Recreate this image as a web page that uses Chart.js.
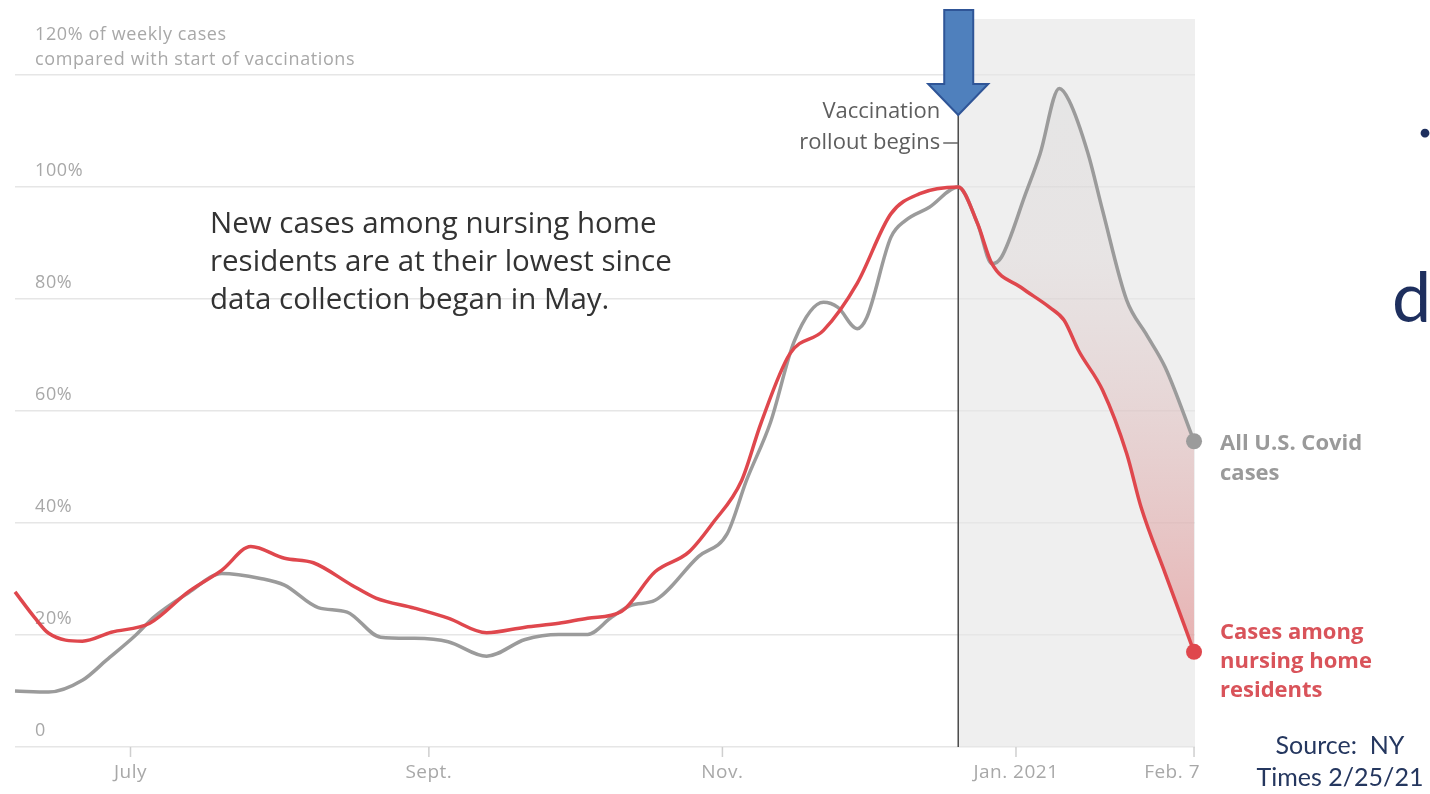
<!DOCTYPE html>
<html>
<head>
<meta charset="utf-8">
<script src="https://cdn.jsdelivr.net/npm/chart.js@4.4.1/dist/chart.umd.min.js"></script>
<style>
  html, body { margin: 0; padding: 0; background: #fff; }
  #wrap { width: 1430px; height: 794px; }
</style>
</head>
<body>
<div id="wrap"><canvas id="chart" width="1430" height="794"></canvas></div>
<script>
// ── DATA (days since July 1, 2020; % of weekly cases vs. start of vaccinations) ──
const VACC_DAY = 172;

const NURSING_DAYS = [-24, -20, -17, -10, -4, 4, 12, 19, 25, 32, 38, 46, 51, 59, 66, 74, 82, 89, 95, 102,
  109, 116, 121, 127, 131, 137, 144, 151, 158, 164, 172, 176, 179, 185, 191, 194, 197, 202, 207, 210, 215, 221];
const NURSING_VALS = [27.7, 23.2, 20.3, 18.9, 20.5, 22.1, 27.7, 31.6, 35.8, 33.7, 32.9, 28.9, 26.6, 24.8, 23, 20.4, 21.4, 22.1, 23, 24.2,
  31.3, 34.8, 40, 47.6, 57.8, 70.2, 74.4, 82.8, 95.2, 98.8, 100, 93.5, 86.3, 82.1, 78.5, 76.2, 70.8, 63.7, 52.4, 42.8, 31, 17];

const ALL_DAYS = [-24, -17, -10, -5, 1, 5, 12, 19, 27, 32, 39, 45, 52, 59, 66, 74, 82, 89, 95, 100, 104, 109,
  118, 124, 128, 133, 138, 144, 147, 151, 153, 158, 161, 166, 172, 176, 179, 181, 186, 189, 193, 195, 199, 202, 207, 211, 215, 221];
const ALL_VALS = [10, 9.8, 11.9, 15.5, 19.9, 23.3, 27.5, 31, 30.1, 28.9, 24.9, 24.1, 19.6, 19.4, 18.8, 16.2, 19.2, 20.1, 20.1, 23.2, 25.3, 26.2,
  34, 38.1, 47.6, 58, 72.6, 79.4, 78.5, 74.7, 76.7, 91, 94, 96.4, 100, 93.5, 86.3, 87.5, 98.8, 105.9, 117.6, 115.5, 105.9, 95.8, 79.8, 73.8, 67.8, 54.6];

const Y_TICKS  = [0, 20, 40, 60, 80, 100, 120];
const Y_LABELS = ['0', '20%', '40%', '60%', '80%', '100%', '120% of weekly cases'];
const Y_SUB    = 'compared with start of vaccinations';
const X_TICKS  = [0, 62, 123, 184, 221];
const X_LABELS = ['July', 'Sept.', 'Nov.', 'Jan. 2021', 'Feb. 7'];

const NOTE = ['New cases among nursing home', 'residents are at their lowest since', 'data collection began in May.'];
const VACC_NOTE = ['Vaccination', 'rollout begins'];
const LABEL_ALL = ['All U.S. Covid', 'cases'];
const LABEL_NURSING = ['Cases among', 'nursing home', 'residents'];
const SOURCE = ['Source:  NY', 'Times 2/25/21'];

const RED  = '#df474d';
const GREY = '#9b9b9b';
const NAVY = '#1e2f5e';
const AXIS_FONT = '"Open Sans", Lato, sans-serif';

const toPoints = (days, vals) => days.map((d, i) => ({ x: d, y: vals[i] }));
const nursingPts = toPoints(NURSING_DAYS, NURSING_VALS);
const allPts = toPoints(ALL_DAYS, ALL_VALS);
const gapPts = allPts.filter(p => p.x >= 179);

Chart.defaults.font.family = 'Lato, "Open Sans", sans-serif';

// ── DECORATION PLUGIN ─────────────────────────────────────────────────
const decor = {
  id: 'decor',
  beforeDraw(chart) {
    const { ctx, chartArea: a, scales: { x } } = chart;
    const vx = x.getPixelForValue(VACC_DAY);
    ctx.save();
    ctx.fillStyle = '#fff';
    ctx.fillRect(0, 0, chart.width, chart.height);
    ctx.fillStyle = '#efefef';
    ctx.fillRect(vx, a.top, a.right - vx, a.bottom - a.top);
    ctx.restore();
  },
  beforeDatasetsDraw(chart) {
    const { ctx, chartArea: a, scales: { x, y } } = chart;
    ctx.save();
    // y labels
    ctx.font = `18px ${AXIS_FONT}`;
    ctx.letterSpacing = '0.6px';
    ctx.fillStyle = '#a8a8a8';
    ctx.textBaseline = 'middle';
    ctx.textAlign = 'left';
    Y_TICKS.forEach((t, i) => {
      const py = y.getPixelForValue(t);
      if (t === 120) {
        ctx.fillText(Y_LABELS[i], 35, py - 40);
        ctx.fillText(Y_SUB, 35, py - 15);
      } else {
        ctx.fillText(Y_LABELS[i], 35, py - 16);
      }
    });
    // x ticks + labels
    ctx.strokeStyle = '#cfcfcf';
    ctx.lineWidth = 1.5;
    ctx.font = `19px ${AXIS_FONT}`;
    ctx.letterSpacing = '0.5px';
    X_TICKS.forEach((t, i) => {
      const px = x.getPixelForValue(t);
      ctx.beginPath();
      ctx.moveTo(px, a.bottom);
      ctx.lineTo(px, a.bottom + 10);
      ctx.stroke();
      const last = i === X_TICKS.length - 1;
      ctx.textAlign = last ? 'right' : 'center';
      ctx.fillText(X_LABELS[i], last ? px + 6 : px, a.bottom + 26);
    });
    ctx.letterSpacing = '0px';
    // note
    ctx.font = `29.5px ${AXIS_FONT}`;
    ctx.fillStyle = '#333';
    ctx.textAlign = 'left';
    NOTE.forEach((s, i) => ctx.fillText(s, 210, 225 + i * 38));
    // vaccination line + note
    const vx = x.getPixelForValue(VACC_DAY);
    ctx.strokeStyle = '#4a4a4a';
    ctx.lineWidth = 1.5;
    ctx.beginPath();
    ctx.moveTo(vx, 112);
    ctx.lineTo(vx, a.bottom);
    ctx.stroke();
    ctx.font = `22px ${AXIS_FONT}`;
    ctx.fillStyle = '#5e5e5e';
    ctx.textAlign = 'right';
    ctx.fillText(VACC_NOTE[0], vx - 18, 112);
    ctx.fillText(VACC_NOTE[1], vx - 18, 143);
    ctx.strokeStyle = '#666';
    ctx.beginPath();
    ctx.moveTo(vx - 15, 143);
    ctx.lineTo(vx, 143);
    ctx.stroke();
    ctx.restore();
  },
  afterDraw(chart) {
    const { ctx, scales: { x, y } } = chart;
    const vx = x.getPixelForValue(VACC_DAY);
    ctx.save();
    // blue arrow
    ctx.beginPath();
    ctx.moveTo(vx - 14, 10);
    ctx.lineTo(vx + 15, 10);
    ctx.lineTo(vx + 15, 84);
    ctx.lineTo(vx + 30, 84);
    ctx.lineTo(vx, 115);
    ctx.lineTo(vx - 30, 84);
    ctx.lineTo(vx - 14, 84);
    ctx.closePath();
    ctx.fillStyle = '#4f80bd';
    ctx.fill();
    ctx.strokeStyle = '#2f5597';
    ctx.lineWidth = 2;
    ctx.stroke();
    // end labels
    const ex = x.getPixelForValue(X_TICKS[X_TICKS.length - 1]) + 26;
    ctx.textAlign = 'left';
    ctx.textBaseline = 'middle';
    ctx.font = `bold 22px ${AXIS_FONT}`;
    ctx.fillStyle = '#9a9a9a';
    const yAll = y.getPixelForValue(ALL_VALS[ALL_VALS.length - 1]);
    LABEL_ALL.forEach((s, i) => ctx.fillText(s, ex, yAll + 2 + i * 30));
    ctx.fillStyle = '#d9535a';
    const yNur = y.getPixelForValue(NURSING_VALS[NURSING_VALS.length - 1]);
    LABEL_NURSING.forEach((s, i) => ctx.fillText(s, ex, yNur - 19 + i * 29));
    // slide remnants + source
    ctx.fillStyle = NAVY;
    ctx.font = '70px Lato';
    ctx.textBaseline = 'alphabetic';
    ctx.fillText('d', 1392, 322);
    ctx.textAlign = 'center';
    ctx.fillText('.', 1425, 137);
    ctx.font = '25px Lato';
    ctx.textBaseline = 'middle';
    ctx.fillStyle = '#25375f';
    ctx.fillText(SOURCE[0], 1340, 746);
    ctx.fillText(SOURCE[1], 1340, 778);
    ctx.restore();
  }
};

function gapFill(context) {
  const { chart } = context;
  const { ctx, chartArea, scales } = chart;
  if (!chartArea) return 'rgba(0,0,0,0)';
  const g = ctx.createLinearGradient(0, scales.y.getPixelForValue(118), 0, scales.y.getPixelForValue(17));
  g.addColorStop(0, 'rgba(200,200,200,0.25)');
  g.addColorStop(0.3, 'rgba(205,190,190,0.22)');
  g.addColorStop(1, 'rgba(222,100,100,0.44)');
  return g;
}

const lastDot = (n, r) => ctx => (ctx.dataIndex === n - 1 ? r : 0);

new Chart(document.getElementById('chart'), {
  type: 'line',
  data: {
    datasets: [
      {
        label: 'Cases among nursing home residents',
        data: nursingPts,
        borderColor: RED,
        backgroundColor: RED,
        borderWidth: 3.5,
        pointRadius: lastDot(nursingPts.length, 8),
        pointBackgroundColor: RED,
        pointBorderWidth: 0,
        cubicInterpolationMode: 'monotone',
        fill: false,
        clip: false,
      },
      {
        label: 'All U.S. Covid cases',
        data: allPts,
        borderColor: GREY,
        backgroundColor: GREY,
        borderWidth: 3.5,
        pointRadius: lastDot(allPts.length, 8),
        pointBackgroundColor: GREY,
        pointBorderWidth: 0,
        cubicInterpolationMode: 'monotone',
        fill: false,
        clip: false,
      },
      {
        label: 'gap',
        data: gapPts,
        borderWidth: 0,
        pointRadius: 0,
        cubicInterpolationMode: 'monotone',
        backgroundColor: gapFill,
        fill: { target: 0 },
      }
    ]
  },
  options: {
    responsive: false,
    animation: false,
    layout: { padding: { left: 15, right: 235, top: 19, bottom: 47 } },
    plugins: { legend: { display: false }, tooltip: { enabled: false } },
    scales: {
      x: {
        type: 'linear',
        min: -24,
        max: 221.2,
        display: false,
      },
      y: {
        min: 0,
        max: 130,
        afterBuildTicks: scale => { scale.ticks = Y_TICKS.map(v => ({ value: v })); },
        ticks: { display: false },
        border: { display: false },
        grid: { color: '#e6e6e6', lineWidth: 1.5, drawTicks: false },
      }
    }
  },
  plugins: [decor]
});
</script>
</body>
</html>
